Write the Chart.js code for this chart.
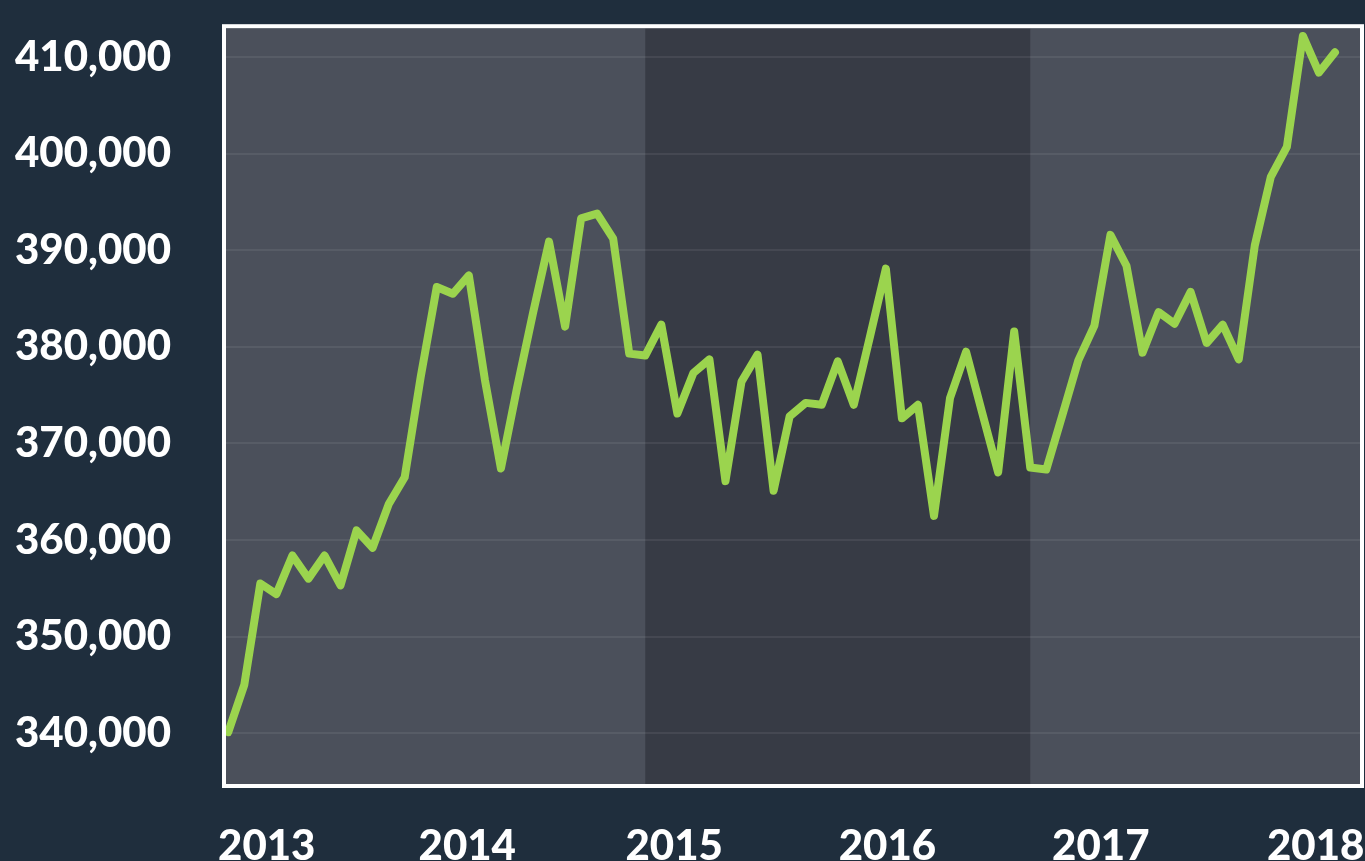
<!DOCTYPE html>
<html>
<head>
<meta charset="utf-8">
<script src="https://cdn.jsdelivr.net/npm/chart.js@4.4.1/dist/chart.umd.min.js"></script>
<style>
    html, body { margin: 0; padding: 0; background: #1f2e3d; overflow: hidden; }
    #wrap { width: 1365px; height: 861px; }
</style>
</head>
<body>
<div id="wrap"><canvas id="chart" width="1365" height="861"></canvas></div>
<script>
// ===== Data =====

// one value per 4-week period
const values = [
    340.1, 345.0, 355.5, 354.4, 358.4, 356.0, 358.4, 355.3, 361.0, 359.2,
    363.7, 366.5, 376.9, 386.2, 385.5, 387.4, 376.6, 367.4, 375.7, 383.5,
    390.9, 382.1, 393.3, 393.8, 391.2, 379.3, 379.1, 382.3, 373.1, 377.3,
    378.7, 366.1, 376.4, 379.2, 365.1, 372.8, 374.2, 374.0, 378.5, 374.0,
    381.0, 388.1, 372.6, 374.0, 362.5, 374.7, 379.5, 373.2, 367.0, 381.6,
    367.5, 367.3, 372.9, 378.6, 382.2, 391.6, 388.4, 379.4, 383.6, 382.4,
    385.7, 380.4, 382.3, 378.7, 390.5, 397.6, 400.7, 412.2, 408.4, 410.5
];

const yearLabels = ['2013', '2014', '2015', '2016', '2017', '2018'];
const yearTickPos = [2.4, 14.9, 27.8, 41.1, 54.4, 67.8];

const yTickValues = [340000, 350000, 360000, 370000, 380000, 390000, 400000, 410000];

// darker shaded period (in period index units)
const bandStart = 26;
const bandEnd = 50;

// ===== Colours =====
const PLOT_BG = '#4b505b';
const BAND_BG = '#373b45';
const LINE_GREEN = '#9bd44e';
const LABEL_FONT = { family: 'Lato', weight: '900', size: 42 };

// Background panel, shaded band and white frame
const plotFrame = {
    id: 'plotFrame',
    beforeDraw(chart) {
        const { ctx, chartArea: a, scales } = chart;
        ctx.save();
        ctx.fillStyle = PLOT_BG;
        ctx.fillRect(a.left, a.top, a.right - a.left, a.bottom - a.top);
        const x0 = scales.x.getPixelForValue(bandStart);
        const x1 = scales.x.getPixelForValue(bandEnd);
        ctx.fillStyle = BAND_BG;
        ctx.fillRect(x0, a.top, x1 - x0, a.bottom - a.top);
        ctx.restore();
    },
    afterDraw(chart) {
        const { ctx, chartArea: a } = chart;
        ctx.save();
        ctx.strokeStyle = '#ffffff';
        ctx.lineWidth = 4;
        ctx.strokeRect(a.left - 2, a.top - 2, a.right - a.left + 4, a.bottom - a.top + 4);
        ctx.restore();
    }
};

function initChart() {
    const ctx = document.getElementById('chart').getContext('2d');

    new Chart(ctx, {
        type: 'line',
        data: {
            datasets: [{
                data: values.map((v, i) => ({ x: i, y: v * 1000 })),
                borderColor: LINE_GREEN,
                borderWidth: 8,
                borderJoinStyle: 'round',
                borderCapStyle: 'round',
                pointRadius: 0,
                tension: 0,
                fill: false
            }]
        },
        options: {
            responsive: false,
            animation: false,
            layout: { padding: { left: 15, top: 26, right: 5, bottom: 0 } },
            plugins: {
                legend: { display: false },
                tooltip: { enabled: false }
            },
            scales: {
                x: {
                    type: 'linear',
                    min: -0.14,
                    max: 70.56,
                    afterBuildTicks: scale => {
                        scale.ticks = yearTickPos.map(v => ({ value: v }));
                    },
                    afterFit: scale => {
                        scale.height = 77;
                        // let the last year label run past the frame like the original
                        scale.paddingLeft = 0;
                        scale.paddingRight = 0;
                    },
                    grid: { display: false, drawTicks: false },
                    border: { display: false },
                    ticks: {
                        autoSkip: false,
                        maxRotation: 0,
                        padding: 37,
                        color: '#ffffff',
                        font: LABEL_FONT,
                        callback: value => yearLabels[yearTickPos.indexOf(value)]
                    }
                },
                y: {
                    min: 334735,
                    max: 413000,
                    afterBuildTicks: scale => {
                        scale.ticks = yTickValues.map(v => ({ value: v }));
                    },
                    afterFit: scale => { scale.width = 211; },
                    grid: {
                        color: 'rgba(255,255,255,0.07)',
                        lineWidth: 2,
                        drawTicks: false
                    },
                    border: { display: false },
                    ticks: {
                        crossAlign: 'far',
                        color: '#ffffff',
                        font: LABEL_FONT,
                        callback: value => value.toLocaleString('en-US')
                    }
                }
            }
        },
        plugins: [plotFrame]
    });
}

initChart();
</script>
</body>
</html>
